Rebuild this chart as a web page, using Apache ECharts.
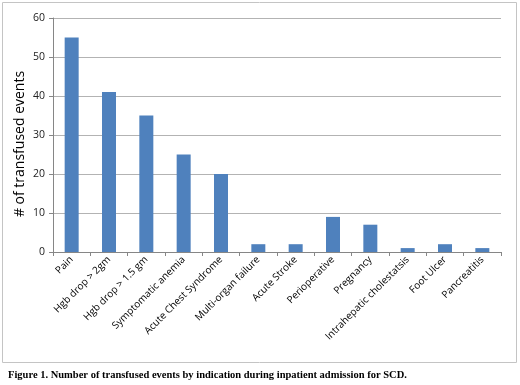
<!DOCTYPE html>
<html>
<head>
<meta charset="utf-8">
<script src="https://cdn.jsdelivr.net/npm/echarts@6/dist/echarts.min.js"></script>
<style>
  html, body { margin: 0; padding: 0; background: #fff; }
  #main { width: 520px; height: 385px; }
</style>
</head>
<body>
<div id="main"></div>
<script>
// categories and counts
const categories = [
  'Pain', 'Hgb drop > 2gm', 'Hgb drop > 1.5 gm', 'Symptomatic anemia',
  'Acute Chest Syndrome', 'Multi-organ failure', 'Acute Stroke', 'Perioperative',
  'Pregnancy', 'Intrahepatic cholestatsis', 'Foot Ulcer', 'Pancreatitis'
];
const events = [55, 41, 35, 25, 20, 2, 2, 9, 7, 1, 2, 1];
const yTicks = [0, 10, 20, 30, 40, 50, 60];

const chart = echarts.init(document.getElementById('main'));

chart.setOption({
  animation: false,
  grid: { left: 53, right: 19, top: 18, bottom: 133, containLabel: false },
  graphic: [
    {
      type: 'rect',
      shape: { x: 2.5, y: 2.5, width: 514, height: 360 },
      style: { fill: 'none', stroke: '#c4c4c4', lineWidth: 1 },
      z: -1
    },
    {
      // y axis title
      type: 'text',
      x: 20,
      y: 144,
      rotation: Math.PI / 2,
      style: {
        text: '# of transfused events',
        font: '14px "Open Sans", sans-serif',
        fill: '#000',
        align: 'center',
        verticalAlign: 'middle'
      }
    },
    {
      type: 'text',
      left: 8,
      top: 370,
      style: {
        text: 'Figure 1. Number of transfused events by indication during inpatient admission for SCD.',
        font: 'bold 10.5px "Liberation Serif", serif',
        fill: '#000'
      }
    }
  ],
  xAxis: {
    type: 'category',
    data: categories,
    axisLine: { lineStyle: { color: '#868686' } },
    axisTick: { show: true, alignWithLabel: false, length: 4, lineStyle: { color: '#868686' } },
    axisLabel: {
      rotate: 45,
      interval: 0,
      margin: 6,
      color: '#000',
      fontSize: 10,
      fontFamily: '"Open Sans", sans-serif'
    }
  },
  yAxis: {
    type: 'value',
    min: yTicks[0],
    max: yTicks[yTicks.length - 1],
    interval: 10,
    axisLine: { show: true, lineStyle: { color: '#868686' } },
    axisTick: { show: true, length: 4, lineStyle: { color: '#868686' } },
    axisLabel: { color: '#222', fontSize: 10.5, margin: 8, fontFamily: '"Open Sans", sans-serif' },
    splitLine: { lineStyle: { color: '#b3b3b3' } }
  },
  series: [{
    type: 'bar',
    data: events,
    barWidth: 14,
    itemStyle: { color: '#4f81bd' }
  }]
});
</script>
</body>
</html>
